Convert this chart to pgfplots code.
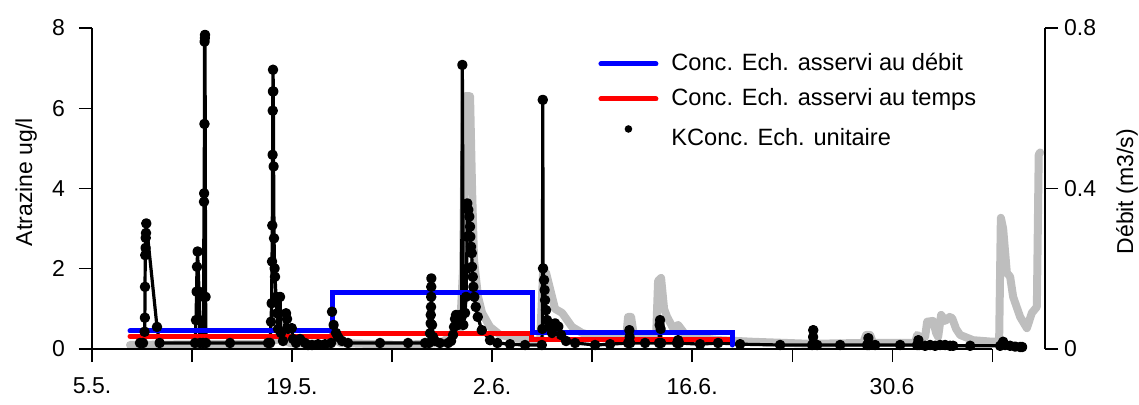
\documentclass[border=0pt]{standalone}
\usepackage{fontspec}
\setmainfont{Liberation Sans}
\usepackage{pgfplots}
\usepackage{pgfplotstable}
\pgfplotsset{compat=1.18}
\definecolor{qgrey}{RGB}{190,190,190}
\definecolor{rblue}{RGB}{0,0,255}
\definecolor{rred}{RGB}{255,0,0}

% discharge (m3/s), x = days after 5.5.
\pgfplotstableread{
d q
2.66 0.010
7.56 0.012
12.11 0.012
12.60 0.020
13.16 0.025
13.86 0.015
16.66 0.012
17.01 0.030
17.36 0.015
21.56 0.010
24.36 0.015
25.06 0.030
25.41 0.050
25.76 0.050
25.97 0.200
26.11 0.630
26.46 0.630
26.60 0.400
26.74 0.220
27.02 0.130
27.30 0.090
27.86 0.055
28.56 0.035
29.96 0.025
31.36 0.020
31.57 0.190
31.78 0.190
31.99 0.160
32.41 0.100
32.90 0.090
33.60 0.055
34.30 0.040
35.56 0.028
37.38 0.025
37.52 0.080
37.73 0.080
37.94 0.030
39.48 0.030
39.62 0.170
39.83 0.177
40.04 0.100
40.25 0.080
40.67 0.052
41.02 0.060
41.65 0.030
43.96 0.022
46.27 0.018
50.26 0.013
53.97 0.015
54.18 0.035
54.46 0.035
54.67 0.015
57.61 0.015
57.75 0.035
57.96 0.030
58.31 0.030
58.45 0.068
58.87 0.070
59.08 0.040
59.22 0.030
59.43 0.085
59.71 0.070
60.02 0.080
60.20 0.077
60.48 0.050
60.76 0.035
61.67 0.022
63.07 0.018
63.49 0.020
63.61 0.327
63.77 0.300
64.03 0.190
64.26 0.180
64.47 0.130
64.96 0.080
65.43 0.052
65.78 0.090
66.13 0.105
66.26 0.484
66.36 0.490
}\flowtable

% unit sample concentrations (ug/l)
\pgfplotstableread{
d c
3.36 0.15
3.57 0.15
3.68 0.43
3.70 0.78
3.71 1.55
3.73 2.34
3.75 2.52
3.76 2.77
3.78 2.89
3.80 3.13
4.55 0.55
4.73 0.15
7.21 0.15
7.28 0.72
7.32 1.43
7.35 2.05
7.39 2.43
7.49 1.43
7.53 0.72
7.56 0.15
7.77 0.15
7.81 1.30
7.84 3.67
7.85 3.88
7.87 5.61
7.88 7.66
7.90 7.75
7.91 7.83
7.95 1.30
7.98 0.15
9.66 0.15
12.32 0.15
12.46 0.15
12.53 0.68
12.57 1.14
12.60 2.18
12.62 3.08
12.64 4.84
12.65 5.94
12.66 6.42
12.67 6.96
12.69 6.42
12.71 4.55
12.74 2.76
12.78 2.01
12.81 1.80
12.88 1.30
12.95 0.89
13.02 0.50
13.16 1.30
13.23 0.40
13.37 0.20
13.58 0.89
13.65 0.75
13.72 0.50
13.98 0.52
14.07 0.25
14.28 0.15
14.56 0.25
14.91 0.15
15.12 0.10
15.40 0.10
15.82 0.12
16.31 0.12
16.73 0.15
16.80 0.93
16.91 0.60
17.08 0.40
17.22 0.30
17.50 0.20
17.92 0.15
20.16 0.15
22.12 0.15
23.31 0.15
23.59 0.15
23.66 0.39
23.70 0.64
23.71 0.85
23.73 1.05
23.74 1.30
23.745 1.55
23.75 1.76
23.80 0.60
23.87 0.30
24.01 0.20
24.36 0.15
24.92 0.15
25.13 0.20
25.27 0.35
25.34 0.55
25.41 0.75
25.48 0.85
25.62 0.60
25.76 0.85
25.87 0.80
25.92 7.08
25.99 0.60
26.11 0.90
26.18 1.30
26.22 2.00
26.25 2.80
26.27 3.63
26.34 3.47
26.41 3.30
26.46 3.05
26.48 2.80
26.53 2.55
26.58 2.39
26.60 2.05
26.65 1.80
26.69 1.55
26.76 1.30
26.86 1.05
27.00 0.80
27.28 0.47
27.86 0.22
28.37 0.15
29.26 0.12
30.31 0.10
31.48 0.10
31.52 0.50
31.55 6.21
31.57 2.01
31.64 1.72
31.68 1.47
31.71 1.22
31.78 0.97
31.85 0.72
31.99 0.56
32.20 0.40
32.41 0.64
32.64 0.56
32.83 0.35
33.18 0.20
33.81 0.15
35.21 0.10
36.26 0.12
37.52 0.15
37.61 0.47
37.63 0.30
37.66 0.15
38.71 0.15
39.69 0.15
39.73 0.60
39.76 0.72
39.80 0.50
39.83 0.15
40.95 0.15
41.02 0.22
41.09 0.15
42.56 0.12
43.82 0.15
45.36 0.12
48.16 0.10
50.40 0.10
50.47 0.30
50.48 0.47
50.51 0.14
50.75 0.10
52.36 0.10
54.25 0.10
54.34 0.27
54.39 0.10
54.81 0.10
56.56 0.10
57.75 0.10
57.84 0.22
57.89 0.10
58.31 0.08
58.66 0.10
59.01 0.08
59.36 0.10
59.71 0.10
60.06 0.08
60.27 0.08
61.46 0.08
63.56 0.08
63.77 0.18
63.91 0.10
64.26 0.08
64.61 0.06
64.96 0.05
65.10 0.05
}\conctable

\pgfplotstableread{
d c
2.66 0.45
16.80 0.45
16.80 1.42
30.80 1.42
30.80 0.40
44.80 0.40
44.80 0.10
}\debittable

\pgfplotstableread{
d c
2.66 0.32
16.80 0.32
16.80 0.39
30.75 0.39
30.75 0.24
44.60 0.24
}\tempstable

\begin{document}
\fontsize{11.5}{13.8}\selectfont
\begin{tikzpicture}
\useasboundingbox (-46pt,-27.5pt) rectangle (523.5pt,174.5pt);
\pgfplotsset{common/.style={at={(0,0)}, anchor=south west, scale only axis,
  width=476.5pt, height=160.5pt, xmin=0, xmax=66.7, clip=false,
  tick style={black, line width=0.6pt}, major tick length=6.5pt, tick align=outside,
  axis line style={black, line width=0.6pt, -},
  tick label style={font=\fontsize{11.5}{13.8}\selectfont},
  label style={font=\fontsize{11.5}{13.8}\selectfont}}}
\begin{axis}[common, ymin=0, ymax=0.8, hide x axis, axis y line*=right,
  ytick={0,0.4,0.8}, yticklabels={0,0.4,0.8},
  yticklabel style={xshift=-1pt},
  ylabel={Débit (m3/s)},
  every axis y label/.style={at={(axis description cs:1.086,0.49)}, rotate=90, anchor=center}]
\addplot[qgrey, line width=4pt, line join=round, line cap=round] table[x=d,y=q] {\flowtable};
\end{axis}
\begin{axis}[common, ymin=0, ymax=8, axis x line*=bottom, axis y line*=left,
  x axis line style={draw=none},
  xtick={0,7,...,63}, xticklabels={5.5.,,19.5.,,2.6.,,16.6.,,30.6,},
  xticklabel style={yshift=-4pt},
  ytick={0,2,4,6,8}, yticklabels={0,2,4,6,8},
  yticklabel style={xshift=-3pt},
  ylabel={Atrazine ug/l},
  every axis y label/.style={at={(axis description cs:-0.069,0.52)}, rotate=90, anchor=center},
  legend cell align=left,
  legend style={draw=none, fill=none, at={(0.531,0.925)}, anchor=north west,
    inner sep=0pt, row sep=6pt, column sep=6.5pt,
    nodes={inner sep=0pt, text height=9pt, text depth=2.5pt,
      font=\fontsize{11.8}{14}\selectfont}}]
\draw[black, line width=0.6pt] (axis cs:0,0) -- (axis cs:63,0);
\addplot[black, line width=1.6pt, line join=round, mark=*, mark size=1.8pt, forget plot] table[x=d,y=c] {\conctable};
\addplot[rred, line width=2.5pt, line cap=round, forget plot] table[x=d,y=c] {\tempstable};
\addplot[rblue, line width=2.5pt, line cap=round, forget plot] table[x=d,y=c] {\debittable};
\addlegendimage{legend image code/.code={\draw[rblue, line width=2.5pt, line cap=round] (0pt,0pt) -- (27.5pt,0pt);}}
\addlegendentry{Conc. Ech. asservi au débit}
\addlegendimage{legend image code/.code={\draw[rred, line width=2.5pt, line cap=round] (0pt,0pt) -- (27.5pt,0pt);}}
\addlegendentry{Conc. Ech. asservi au temps}
\addlegendimage{legend image code/.code={\path[draw=none] (0pt,0pt) -- (27.5pt,0pt); \fill[black, draw=none] (13.75pt,2.5pt) circle (1.9pt);}}
\addlegendentry{\raisebox{-2.5pt}{KConc. Ech. unitaire}}
\end{axis}
\end{tikzpicture}
\end{document}
